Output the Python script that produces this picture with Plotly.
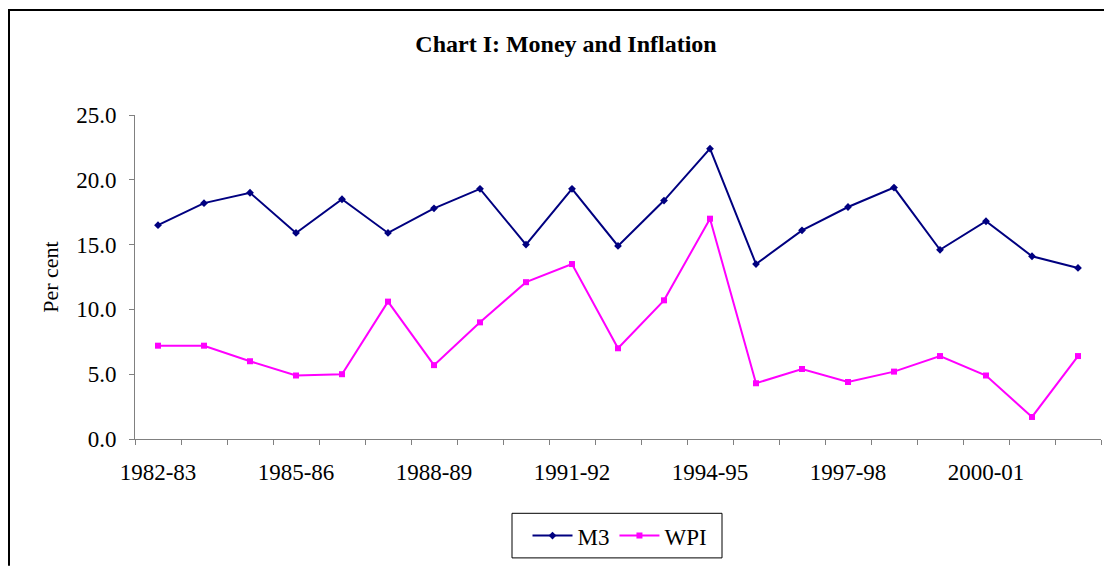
import plotly.graph_objects as go

categories = ["1982-83", "1983-84", "1984-85", "1985-86", "1986-87", "1987-88", "1988-89",
              "1989-90", "1990-91", "1991-92", "1992-93", "1993-94", "1994-95", "1995-96",
              "1996-97", "1997-98", "1998-99", "1999-00", "2000-01", "2001-02", "2002-03"]
m3 = [16.5, 18.2, 19.0, 15.9, 18.5, 15.9, 17.8, 19.3, 15.0, 19.3, 14.9, 18.4, 22.4, 13.5,
      16.1, 17.9, 19.4, 14.6, 16.8, 14.1, 13.2]
wpi = [7.2, 7.2, 6.0, 4.9, 5.0, 10.6, 5.7, 9.0, 12.1, 13.5, 7.0, 10.7, 17.0, 4.3,
       5.4, 4.4, 5.2, 6.4, 4.9, 1.7, 6.4]
label_idx = [0, 3, 6, 9, 12, 15, 18]
y_ticks = [0, 5, 10, 15, 20, 25]

FONT = "Liberation Serif, Times New Roman, serif"
xs = list(range(len(categories)))

fig = go.Figure()
fig.add_trace(go.Scatter(x=xs, y=m3, name="M3", mode="lines+markers",
                         line=dict(color="#000080", width=2),
                         marker=dict(symbol="diamond", size=6, color="#000080")))
fig.add_trace(go.Scatter(x=xs, y=wpi, name="WPI", mode="lines+markers",
                         line=dict(color="#FF00FF", width=2),
                         marker=dict(symbol="square", size=6, color="#FF00FF")))

# figure coordinates (page has an 8px body margin)
W, H = 1104, 560
L, R, T, B = 127, 11, 107, 126
pw, ph = W - L - R, H - T - B

def px(x):
    return (x - L) / pw

def py(y):
    return (H - B - y) / ph

fig.update_layout(
    width=W, height=H,
    margin=dict(l=L, r=R, t=T, b=B),
    paper_bgcolor="white", plot_bgcolor="white",
    font=dict(family=FONT, size=22, color="black"),
    title=dict(text="<b>Chart I: Money and Inflation</b>", x=558 / W, xanchor="center",
               y=1 - 36 / H, yanchor="middle", font=dict(size=24, family=FONT)),
    showlegend=True,
    legend=dict(orientation="h", x=px(612), xanchor="center", y=py(531.5), yanchor="middle",
                borderwidth=0, bgcolor="rgba(0,0,0,0)", font=dict(size=23, family=FONT),
                itemwidth=40, tracegroupgap=0),
    shapes=[
        dict(type="line", xref="paper", yref="paper", x0=px(1), x1=px(1), y0=py(0), y1=py(562),
             line=dict(color="black", width=2)),
        dict(type="line", xref="paper", yref="paper", x0=px(0), x1=px(1106), y0=py(1), y1=py(1),
             line=dict(color="black", width=2)),
        dict(type="rect", xref="paper", yref="paper", x0=px(504), x1=px(714), y0=py(509), y1=py(554),
             line=dict(color="black", width=1)),
    ],
)
fig.update_xaxes(range=[-0.5, len(categories) - 0.5], tickvals=label_idx,
                 ticktext=[categories[i] for i in label_idx], ticks="",
                 ticklabelstandoff=12,
                 showline=True, linecolor="#808080", linewidth=1, showgrid=False, zeroline=False,
                 tickfont=dict(size=23, family=FONT),
                 minor=dict(tick0=-0.5, dtick=1, ticks="outside", ticklen=5,
                            tickcolor="#808080", tickwidth=1, showgrid=False))
fig.update_yaxes(range=[0, 25], tickvals=y_ticks, tickformat=".1f", ticks="outside", ticklen=5,
                 tickcolor="#808080", showline=True, linecolor="#808080", linewidth=1,
                 ticklabelstandoff=8,
                 showgrid=False, zeroline=False, tickfont=dict(size=23, family=FONT),
                 title=dict(text="Per cent", font=dict(size=22, family=FONT), standoff=11))

fig.write_html("out.html")
